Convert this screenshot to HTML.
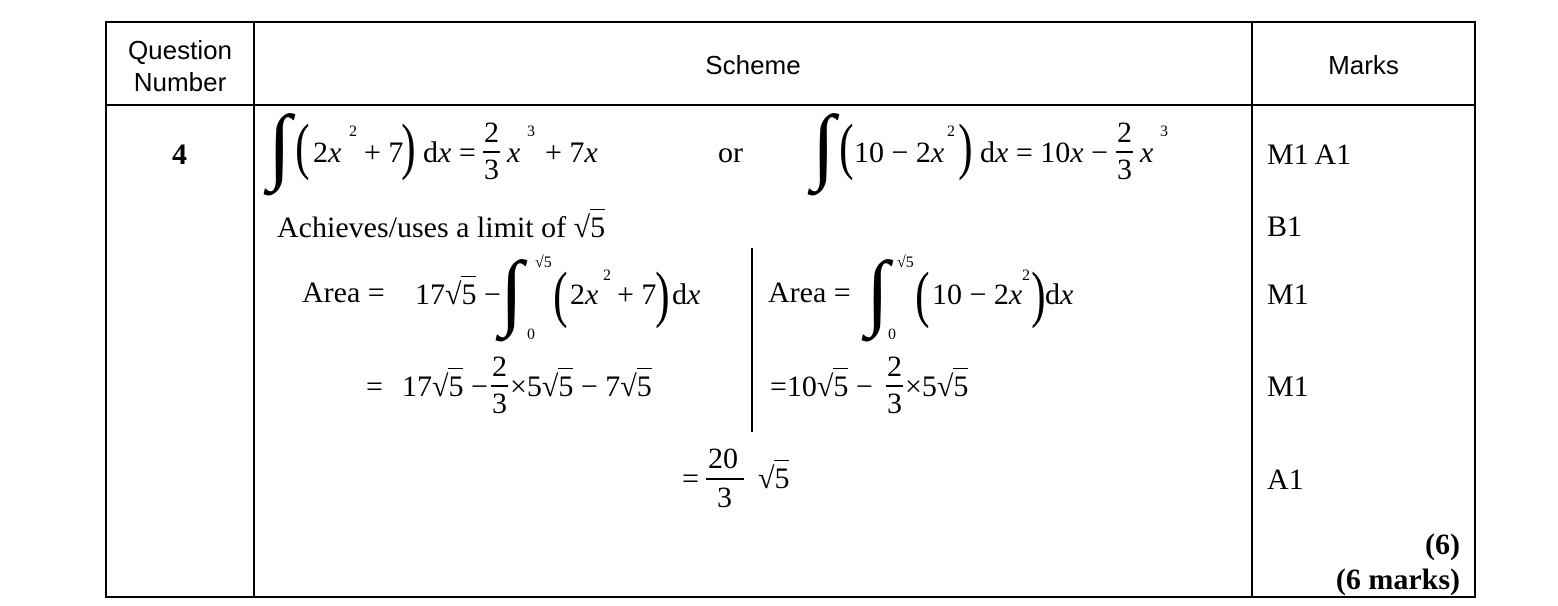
<!DOCTYPE html>
<html><head><meta charset="utf-8"><style>
body{margin:0;background:#fff;width:1558px;height:606px;position:relative;overflow:hidden}
.t{position:absolute;font-family:"Liberation Serif",serif;font-size:30px;line-height:1;white-space:pre;color:#000}
.h{position:absolute;font-family:"Liberation Sans",sans-serif;font-size:26px;line-height:1;text-align:center;color:#000}
.s{font-size:16px}
.i{font-style:italic}
.b{position:absolute;background:#000}
.big{font-size:84px;line-height:1}
.par{font-size:62px;transform:scaleX(0.7);display:inline-block}
.ov{border-top:1.5px solid #000;padding-top:1px}
</style></head><body>
<div class="b" style="left:105px;top:21px;width:1371px;height:2px"></div>
<div class="b" style="left:105px;top:104px;width:1371px;height:2px"></div>
<div class="b" style="left:105px;top:596px;width:1371px;height:2px"></div>
<div class="b" style="left:105px;top:21px;width:2px;height:577px"></div>
<div class="b" style="left:253px;top:21px;width:2px;height:577px"></div>
<div class="b" style="left:1251px;top:21px;width:2px;height:577px"></div>
<div class="b" style="left:1474px;top:21px;width:2px;height:577px"></div>
<div class="b" style="left:751px;top:248px;width:2px;height:184px"></div>

<div class="h" style="left:107px;top:34px;width:146px;line-height:32px">Question<br>Number</div>
<div class="h" style="left:255px;top:52px;width:996px">Scheme</div>
<div class="h" style="left:1253px;top:52px;width:221px">Marks</div>

<div class="t" style="left:172px;top:140px;font-weight:bold">4</div>

<!-- line 1 -->
<div class="t big" style="left:268px;top:104px">∫</div>
<div class="t" style="left:292px;top:116px"><span class="par">(</span></div>
<div class="t" style="left:313px;top:138px">2<span class="i">x</span></div>
<div class="t s" style="left:349px;top:124px">2</div>
<div class="t" style="left:364px;top:138px">+ 7</div>
<div class="t" style="left:398px;top:116px"><span class="par">)</span></div>
<div class="t" style="left:423px;top:138px">d<span class="i">x</span> =</div>
<div class="t" style="left:484px;top:118px">2</div>
<div class="b" style="left:483px;top:151px;width:17px;height:1.5px"></div>
<div class="t" style="left:484px;top:155px">3</div>
<div class="t i" style="left:507px;top:138px">x</div>
<div class="t s" style="left:527px;top:124px">3</div>
<div class="t" style="left:545px;top:138px">+ 7<span class="i">x</span></div>
<div class="t" style="left:718px;top:138px">or</div>
<div class="t big" style="left:812px;top:104px">∫</div>
<div class="t" style="left:836px;top:116px"><span class="par">(</span></div>
<div class="t" style="left:854px;top:138px">10 − 2<span class="i">x</span></div>
<div class="t s" style="left:947px;top:124px">2</div>
<div class="t" style="left:955px;top:116px"><span class="par">)</span></div>
<div class="t" style="left:980px;top:138px">d<span class="i">x</span> = 10<span class="i">x</span> −</div>
<div class="t" style="left:1117px;top:118px">2</div>
<div class="b" style="left:1116px;top:151px;width:17px;height:1.5px"></div>
<div class="t" style="left:1117px;top:155px">3</div>
<div class="t i" style="left:1140px;top:138px">x</div>
<div class="t s" style="left:1160px;top:124px">3</div>

<!-- line 2 -->
<div class="t" style="left:277px;top:213px">Achieves/uses a limit of √<span class="ov">5</span></div>

<!-- line 3 -->
<div class="t" style="left:302px;top:278px">Area =</div>
<div class="t" style="left:415px;top:280px">17√<span class="ov">5</span> −</div>
<div class="t big" style="left:500px;top:250px">∫</div>
<div class="t s" style="left:535px;top:255px">√5</div>
<div class="t s" style="left:527px;top:327px">0</div>
<div class="t" style="left:550px;top:264px"><span class="par">(</span></div>
<div class="t" style="left:570px;top:280px">2<span class="i">x</span></div>
<div class="t s" style="left:603px;top:268px">2</div>
<div class="t" style="left:617px;top:280px">+ 7</div>
<div class="t" style="left:652px;top:264px"><span class="par">)</span></div>
<div class="t" style="left:672px;top:280px">d<span class="i">x</span></div>

<div class="t" style="left:768px;top:278px">Area =</div>
<div class="t big" style="left:866px;top:250px">∫</div>
<div class="t s" style="left:897px;top:255px">√5</div>
<div class="t s" style="left:888px;top:327px">0</div>
<div class="t" style="left:912px;top:264px"><span class="par">(</span></div>
<div class="t" style="left:932px;top:280px">10 − 2<span class="i">x</span></div>
<div class="t s" style="left:1022px;top:268px">2</div>
<div class="t" style="left:1028px;top:264px"><span class="par">)</span></div>
<div class="t" style="left:1045px;top:280px">d<span class="i">x</span></div>

<!-- line 4 -->
<div class="t" style="left:366px;top:372px">=</div>
<div class="t" style="left:402px;top:372px">17√<span class="ov">5</span> −</div>
<div class="t" style="left:492px;top:352px">2</div>
<div class="b" style="left:491px;top:385px;width:17px;height:1.5px"></div>
<div class="t" style="left:492px;top:389px">3</div>
<div class="t" style="left:510px;top:372px">×5√<span class="ov">5</span> − 7√<span class="ov">5</span></div>
<div class="t" style="left:770px;top:372px">=10√<span class="ov">5</span> −</div>
<div class="t" style="left:887px;top:352px">2</div>
<div class="b" style="left:886px;top:385px;width:17px;height:1.5px"></div>
<div class="t" style="left:887px;top:389px">3</div>
<div class="t" style="left:905px;top:372px">×5√<span class="ov">5</span></div>

<!-- line 5 -->
<div class="t" style="left:682px;top:464px">=</div>
<div class="t" style="left:708px;top:444px">20</div>
<div class="b" style="left:706px;top:478px;width:38px;height:1.5px"></div>
<div class="t" style="left:717px;top:483px">3</div>
<div class="t" style="left:758px;top:464px">√<span class="ov">5</span></div>

<!-- marks -->
<div class="t" style="left:1267px;top:140px">M1 A1</div>
<div class="t" style="left:1267px;top:212px">B1</div>
<div class="t" style="left:1267px;top:280px">M1</div>
<div class="t" style="left:1267px;top:372px">M1</div>
<div class="t" style="left:1267px;top:465px">A1</div>
<div class="t" style="right:98px;top:530px;font-weight:bold">(6)</div>
<div class="t" style="right:98px;top:565px;font-weight:bold">(6 marks)</div>
</body></html>
